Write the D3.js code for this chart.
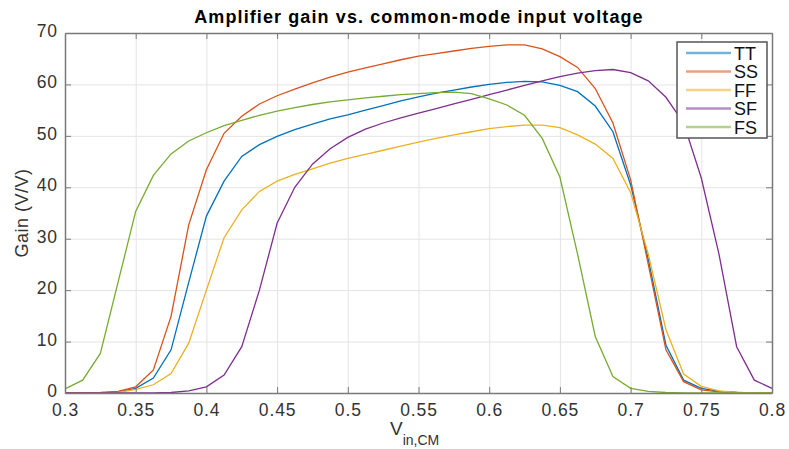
<!DOCTYPE html>
<html>
<head>
<meta charset="utf-8">
<script src="https://cdn.jsdelivr.net/npm/d3@7"></script>
<style>
  body { margin: 0; background: #fff; }
  svg { font-family: "Liberation Sans", Arial, sans-serif; }
  .grid line { stroke: #e4e4e4; stroke-width: 1; }
  .grid path { display: none; }
  .ax path, .ax line { stroke: #7a7a7a; }
  .line { fill: none; stroke-width: 1.3; }
</style>
</head>
<body>
<script>
// x values: 0.3 .. 0.8 step 0.0125
let vin = d3.range(41).map(i => +(0.3 + i * 0.0125).toFixed(4));

let names = ['TT', 'SS', 'FF', 'SF', 'FS'];
let colors = ['#0072BD', '#D95319', '#EDB120', '#7E2F8E', '#77AC30'];

let gainTT = [0, 0, 0, 0.2, 0.9, 2.9, 8.4, 21.5, 34.4, 41.2, 46, 48.3, 49.9, 51.2, 52.3, 53.3, 54.1, 55, 55.9, 56.8, 57.6,
    58.3, 58.9, 59.5, 60, 60.4, 60.6, 60.5, 59.8, 58.6, 55.8, 50.8, 40.5, 26, 9.3, 2.5, 0.9, 0.3, 0.1, 0, 0];
let gainSS = [0, 0, 0.1, 0.3, 1.2, 4.5, 14.9, 32.7, 43.4, 50.5, 53.8, 56.2, 57.8, 59.1, 60.3, 61.4, 62.4, 63.2, 64, 64.8, 65.5,
    66, 66.5, 67, 67.4, 67.7, 67.7, 66.9, 65.4, 63.3, 59.2, 52.5, 41.5, 25, 8.4, 2.2, 0.6, 0.2, 0.1, 0, 0];
let gainFF = [0, 0, 0, 0.1, 0.7, 1.6, 3.8, 9.7, 20, 30.2, 35.6, 39.2, 41.2, 42.5, 43.6, 44.7, 45.6, 46.4, 47.2, 48, 48.8,
    49.5, 50.2, 50.8, 51.4, 51.8, 52.1, 52.1, 51.6, 50.2, 48.4, 45.6, 39, 27, 12.3, 3.7, 1.3, 0.4, 0.1, 0, 0];
let gainSF = [0, 0, 0, 0, 0, 0, 0.1, 0.4, 1.2, 3.5, 9, 20, 33, 40, 44.5, 47.5, 49.7, 51.3, 52.5, 53.5, 54.4,
    55.3, 56.2, 57.1, 58, 58.9, 59.8, 60.7, 61.5, 62.2, 62.7, 62.9, 62.3, 60.7, 57.5, 52.5, 41.8, 27, 9, 2.5, 0.9];
let gainFS = [0.8, 2.5, 7.7, 21.5, 35.3, 42.3, 46.5, 49, 50.6, 52, 53, 54, 54.8, 55.5, 56.1, 56.6, 57, 57.4, 57.7, 58, 58.2,
    58.4, 58.5, 58.2, 57.2, 56, 54, 49.5, 42, 27, 11, 3.2, 0.9, 0.3, 0.1, 0, 0, 0, 0, 0, 0];

let xTicks = [0.3, 0.35, 0.4, 0.45, 0.5, 0.55, 0.6, 0.65, 0.7, 0.75, 0.8];
let yTicks = [0, 10, 20, 30, 40, 50, 60, 70];

let series = [gainTT, gainSS, gainFF, gainSF, gainFS];

let svgWidth = 789, svgHeight = 449,
    margins = {top: 33, right: 17, bottom: 56, left: 65};
let w = svgWidth - margins.left - margins.right,
    h = svgHeight - margins.top - margins.bottom;

let svgTop = d3.select('body').append('svg')
    .attr('width', svgWidth)
    .attr('height', svgHeight);
let svg = svgTop.append('g')
    .attr('transform', `translate(${margins.left},${margins.top})`);

let xScale = d3.scaleLinear().domain([0.3, 0.8]).range([0, w]);
let yScale = d3.scaleLinear().domain([0, 70]).range([h, 0]);

// grid
svg.append('g').classed('grid', true)
    .attr('transform', `translate(0,${h})`)
    .call(d3.axisBottom(xScale).tickValues(xTicks).tickSize(-h).tickFormat(''));
svg.append('g').classed('grid', true)
    .call(d3.axisLeft(yScale).tickValues(yTicks).tickSize(-w).tickFormat(''));

// lines
let line = d3.line()
    .x((d, i) => xScale(vin[i]))
    .y(d => yScale(d));
svg.selectAll('path.line')
    .data(series)
    .enter().append('path')
    .classed('line', true)
    .attr('stroke', (d, i) => colors[i])
    .attr('d', line);

// axes box with inward ticks
let fmt = d3.format('');
svg.append('g').classed('ax', true)
    .attr('transform', `translate(0,${h})`)
    .call(d3.axisBottom(xScale).tickValues(xTicks).tickSizeInner(-6).tickSizeOuter(0).tickPadding(11).tickFormat(fmt));
svg.append('g').classed('ax', true)
    .call(d3.axisTop(xScale).tickValues(xTicks).tickSizeInner(-6).tickSizeOuter(0).tickFormat(''));
let yAxis = svg.append('g').classed('ax', true)
    .call(d3.axisLeft(yScale).tickValues(yTicks).tickSizeInner(-6).tickSizeOuter(0).tickPadding(7));
yAxis.selectAll('.tick text').attr('dy', '0.2em');
svg.append('g').classed('ax', true)
    .attr('transform', `translate(${w},0)`)
    .call(d3.axisRight(yScale).tickValues(yTicks).tickSizeInner(-6).tickSizeOuter(0).tickFormat(''));
svg.selectAll('.ax path').attr('stroke-width', 1.5);
svg.selectAll('.ax .tick text')
    .attr('font-size', 17.5).attr('letter-spacing', 0.9).attr('fill', '#333')
    .attr('font-family', '"Liberation Sans", Arial, sans-serif');

// legend
let leg = svg.append('g').attr('transform', `translate(${w - 95},9)`);
leg.append('rect')
    .attr('width', 90).attr('height', 96)
    .attr('fill', '#fff').attr('stroke', '#555').attr('stroke-width', 1.5);
names.forEach((n, i) => {
    let y = 11 + i * 18.5;
    leg.append('line')
        .attr('x1', 9).attr('x2', 54).attr('y1', y).attr('y2', y)
        .attr('stroke', colors[i]).attr('stroke-width', 2.5).attr('stroke-opacity', 0.55);
    leg.append('text')
        .attr('x', 57).attr('y', y + 6.5)
        .attr('font-size', 18).attr('fill', '#111')
        .text(n);
});

// title and labels
svgTop.append('text')
    .attr('x', 419).attr('y', 23)
    .attr('text-anchor', 'middle')
    .attr('font-size', 18).attr('font-weight', 'bold').attr('letter-spacing', 1.1).attr('fill', '#000')
    .text('Amplifier gain vs. common-mode input voltage');

svgTop.append('text')
    .attr('transform', `translate(28,${margins.top + h / 2}) rotate(-90)`)
    .attr('text-anchor', 'middle')
    .attr('font-size', 18).attr('letter-spacing', 0.5).attr('fill', '#333')
    .text('Gain (V/V)');

let xl = svgTop.append('text')
    .attr('x', 390).attr('y', 435)
    .attr('fill', '#333');
xl.append('tspan').attr('font-size', 19).text('V');
xl.append('tspan').attr('font-size', 14).attr('dy', 10).text('in,CM');
</script>
</body>
</html>
